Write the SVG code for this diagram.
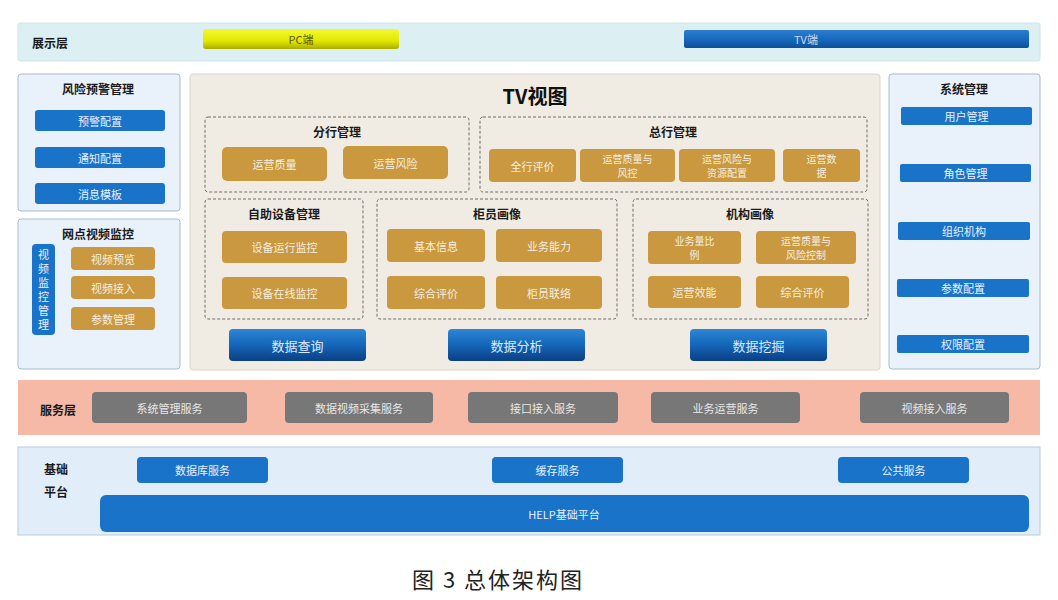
<svg xmlns="http://www.w3.org/2000/svg" width="1058" height="600" viewBox="0 0 1058 600">
<defs>
<linearGradient id="gy" x1="0" y1="0" x2="0" y2="1"><stop offset="0" stop-color="#f4f830"/><stop offset="0.6" stop-color="#e2e800"/><stop offset="1" stop-color="#a8ae00"/></linearGradient>
<linearGradient id="gb" x1="0" y1="0" x2="0" y2="1"><stop offset="0" stop-color="#2a7ed0"/><stop offset="0.6" stop-color="#1565b8"/><stop offset="1" stop-color="#0d4f96"/></linearGradient>
<linearGradient id="gd" x1="0" y1="0" x2="0" y2="1"><stop offset="0" stop-color="#2d86d6"/><stop offset="0.5" stop-color="#1466b8"/><stop offset="1" stop-color="#0b3f84"/></linearGradient>
<style>
text{font-family:"Noto Sans CJK SC","Liberation Sans",sans-serif;text-anchor:middle;dominant-baseline:central}
.band{fill:#dcf0f4;stroke:#cfe4ea;stroke-width:1}
.panel{fill:#e9f1fa;stroke:#a9bccf;stroke-width:1}
.tv{fill:#f1ece3;stroke:#ddd5c8;stroke-width:1}
.dash{fill:none;stroke:#6f6f6f;stroke-width:1;stroke-dasharray:3 2}
.bb{fill:#1873c9}
.gold{fill:#c9983f}
.gray{fill:#777777}
.t{fill:#1a1a1a;font-size:12px;font-weight:bold}
.w{fill:#f5efe0;font-size:11px}
.w2{fill:#f5efe0;font-size:10px}
.wb{fill:#e8f2ff;font-size:11px}
.wd{fill:#dce9ff;font-size:13px}
.wg{fill:#e8e8e8;font-size:11px}
</style>
</defs>
<rect width="1058" height="600" fill="#ffffff"/>

<g id="display-layer">
<rect class="band" x="18" y="23" width="1022" height="38" rx="2"/>
<text class="t" x="50" y="42">展示层</text>
<rect x="203" y="29" width="196" height="20" rx="3" fill="url(#gy)"/>
<text x="301" y="39" fill="#5a5a00" font-size="11">PC端</text>
<rect x="684" y="30" width="345" height="18" rx="2" fill="url(#gb)"/>
<text x="806" y="39" fill="#c8dcf0" font-size="11">TV端</text>
</g>

<g id="risk-warning">
<rect class="panel" x="18" y="74" width="162" height="137" rx="3"/>
<text class="t" x="98" y="88">风险预警管理</text>
<rect class="bb" x="35" y="110" width="130" height="21" rx="3"/><text class="wb" x="100" y="120.5">预警配置</text>
<rect class="bb" x="35" y="147" width="130" height="21" rx="3"/><text class="wb" x="100" y="157.5">通知配置</text>
<rect class="bb" x="35" y="183" width="130" height="21" rx="3"/><text class="wb" x="100" y="193.5">消息模板</text>
</g>

<g id="video-monitor">
<rect class="panel" x="18" y="219" width="162" height="150" rx="3"/>
<text class="t" x="98" y="233">网点视频监控</text>
<rect class="bb" x="32" y="244" width="23" height="91" rx="4"/>
<text class="wb" x="43.5" y="254" font-size="12">视</text>
<text class="wb" x="43.5" y="268" font-size="12">频</text>
<text class="wb" x="43.5" y="282" font-size="12">监</text>
<text class="wb" x="43.5" y="296" font-size="12">控</text>
<text class="wb" x="43.5" y="310" font-size="12">管</text>
<text class="wb" x="43.5" y="324" font-size="12">理</text>
<rect class="gold" x="71" y="247" width="84" height="23" rx="4"/><text class="w" x="113" y="258.5">视频预览</text>
<rect class="gold" x="71" y="276" width="84" height="23" rx="4"/><text class="w" x="113" y="287.5">视频接入</text>
<rect class="gold" x="71" y="307" width="84" height="23" rx="4"/><text class="w" x="113" y="318.5">参数管理</text>
</g>

<g id="tv-view">
<rect class="tv" x="190" y="74" width="690" height="296" rx="3"/>
<text x="535" y="95" fill="#111" font-size="20" font-weight="bold">TV视图</text>
</g>

<g id="branch-mgmt">
<rect class="dash" x="205" y="117" width="264" height="75" rx="3"/>
<text class="t" x="337" y="131">分行管理</text>
<rect class="gold" x="222" y="147" width="105" height="34" rx="5"/><text class="w" x="274.5" y="164">运营质量</text>
<rect class="gold" x="343" y="146" width="105" height="33" rx="5"/><text class="w" x="395.5" y="162.5">运营风险</text>
</g>

<g id="hq-mgmt">
<rect class="dash" x="480" y="117" width="387" height="75" rx="3"/>
<text class="t" x="673" y="131">总行管理</text>
<rect class="gold" x="489" y="149" width="87" height="33" rx="4"/><text class="w" x="532.5" y="165.5">全行评价</text>
<rect class="gold" x="580" y="149" width="95" height="33" rx="4"/><text class="w2" x="627.5" y="158.5">运营质量与</text><text class="w2" x="627.5" y="172.5">风控</text>
<rect class="gold" x="679" y="149" width="96" height="33" rx="4"/><text class="w2" x="727" y="158.5">运营风险与</text><text class="w2" x="727" y="172.5">资源配置</text>
<rect class="gold" x="783" y="149" width="77" height="33" rx="4"/><text class="w2" x="821.5" y="158.5">运营数</text><text class="w2" x="821.5" y="172.5">据</text>
</g>

<g id="self-service">
<rect class="dash" x="205" y="199" width="158" height="120" rx="3"/>
<text class="t" x="284" y="213">自助设备管理</text>
<rect class="gold" x="222" y="231" width="125" height="32" rx="4"/><text class="w" x="284.5" y="247">设备运行监控</text>
<rect class="gold" x="222" y="277" width="125" height="32" rx="4"/><text class="w" x="284.5" y="293">设备在线监控</text>
</g>

<g id="teller-profile">
<rect class="dash" x="377" y="199" width="240" height="120" rx="3"/>
<text class="t" x="497" y="213">柜员画像</text>
<rect class="gold" x="387" y="229" width="98" height="33" rx="4"/><text class="w" x="436" y="245.5">基本信息</text>
<rect class="gold" x="496" y="229" width="106" height="33" rx="4"/><text class="w" x="549" y="245.5">业务能力</text>
<rect class="gold" x="387" y="276" width="98" height="33" rx="4"/><text class="w" x="436" y="292.5">综合评价</text>
<rect class="gold" x="496" y="276" width="106" height="33" rx="4"/><text class="w" x="549" y="292.5">柜员联络</text>
</g>

<g id="org-profile">
<rect class="dash" x="633" y="199" width="235" height="120" rx="3"/>
<text class="t" x="750" y="213">机构画像</text>
<rect class="gold" x="648" y="231" width="93" height="33" rx="4"/><text class="w2" x="694.5" y="240.5">业务量比</text><text class="w2" x="694.5" y="254.5">例</text>
<rect class="gold" x="756" y="231" width="100" height="33" rx="4"/><text class="w2" x="806" y="240.5">运营质量与</text><text class="w2" x="806" y="254.5">风险控制</text>
<rect class="gold" x="648" y="276" width="93" height="32" rx="4"/><text class="w" x="694.5" y="292">运营效能</text>
<rect class="gold" x="756" y="276" width="93" height="32" rx="4"/><text class="w" x="802.5" y="292">综合评价</text>
</g>

<g id="data-actions">
<rect x="229" y="329" width="137" height="32" rx="4" fill="url(#gd)"/><text class="wd" x="297.5" y="345">数据查询</text>
<rect x="448" y="329" width="137" height="32" rx="4" fill="url(#gd)"/><text class="wd" x="516.5" y="345">数据分析</text>
<rect x="690" y="329" width="137" height="32" rx="4" fill="url(#gd)"/><text class="wd" x="758.5" y="345">数据挖掘</text>
</g>

<g id="system-mgmt">
<rect class="panel" x="889" y="74" width="151" height="295" rx="3"/>
<text class="t" x="964" y="88">系统管理</text>
<rect class="bb" x="901" y="107" width="131" height="18" rx="2"/><text class="wb" x="966.5" y="116">用户管理</text>
<rect class="bb" x="900" y="164" width="131" height="18" rx="2"/><text class="wb" x="965.5" y="173">角色管理</text>
<rect class="bb" x="898" y="222" width="132" height="18" rx="2"/><text class="wb" x="964" y="231">组织机构</text>
<rect class="bb" x="897" y="279" width="132" height="18" rx="2"/><text class="wb" x="963" y="288">参数配置</text>
<rect class="bb" x="897" y="335" width="132" height="18" rx="2"/><text class="wb" x="963" y="344">权限配置</text>
</g>

<g id="service-layer">
<rect x="18" y="380" width="1022" height="55" fill="#f6b9a6"/>
<text class="t" x="58" y="409">服务层</text>
<rect class="gray" x="92" y="392" width="155" height="31" rx="4"/><text class="wg" x="169.5" y="407.5">系统管理服务</text>
<rect class="gray" x="285" y="392" width="148" height="31" rx="4"/><text class="wg" x="359" y="407.5">数据视频采集服务</text>
<rect class="gray" x="468" y="392" width="150" height="31" rx="4"/><text class="wg" x="543" y="407.5">接口接入服务</text>
<rect class="gray" x="651" y="392" width="149" height="31" rx="4"/><text class="wg" x="725.5" y="407.5">业务运营服务</text>
<rect class="gray" x="860" y="392" width="149" height="31" rx="4"/><text class="wg" x="934.5" y="407.5">视频接入服务</text>
</g>

<g id="base-platform">
<rect x="18" y="447" width="1022" height="88" fill="#e1edf8" stroke="#b6cbe0" stroke-width="1"/>
<text class="t" x="56" y="468">基础</text>
<text class="t" x="56" y="491">平台</text>
<rect class="bb" x="137" y="457" width="131" height="26" rx="4"/><text class="wb" x="202.5" y="470">数据库服务</text>
<rect class="bb" x="492" y="457" width="131" height="26" rx="4"/><text class="wb" x="557.5" y="470">缓存服务</text>
<rect class="bb" x="838" y="457" width="131" height="26" rx="4"/><text class="wb" x="903.5" y="470">公共服务</text>
<rect class="bb" x="100" y="495" width="929" height="37" rx="6"/><text class="wb" x="564" y="513.5">HELP基础平台</text>
</g>

<g id="connectors"></g>

<text x="498" y="578" fill="#222" font-size="22" letter-spacing="2" xml:space="preserve">图 3 总体架构图</text>
</svg>
